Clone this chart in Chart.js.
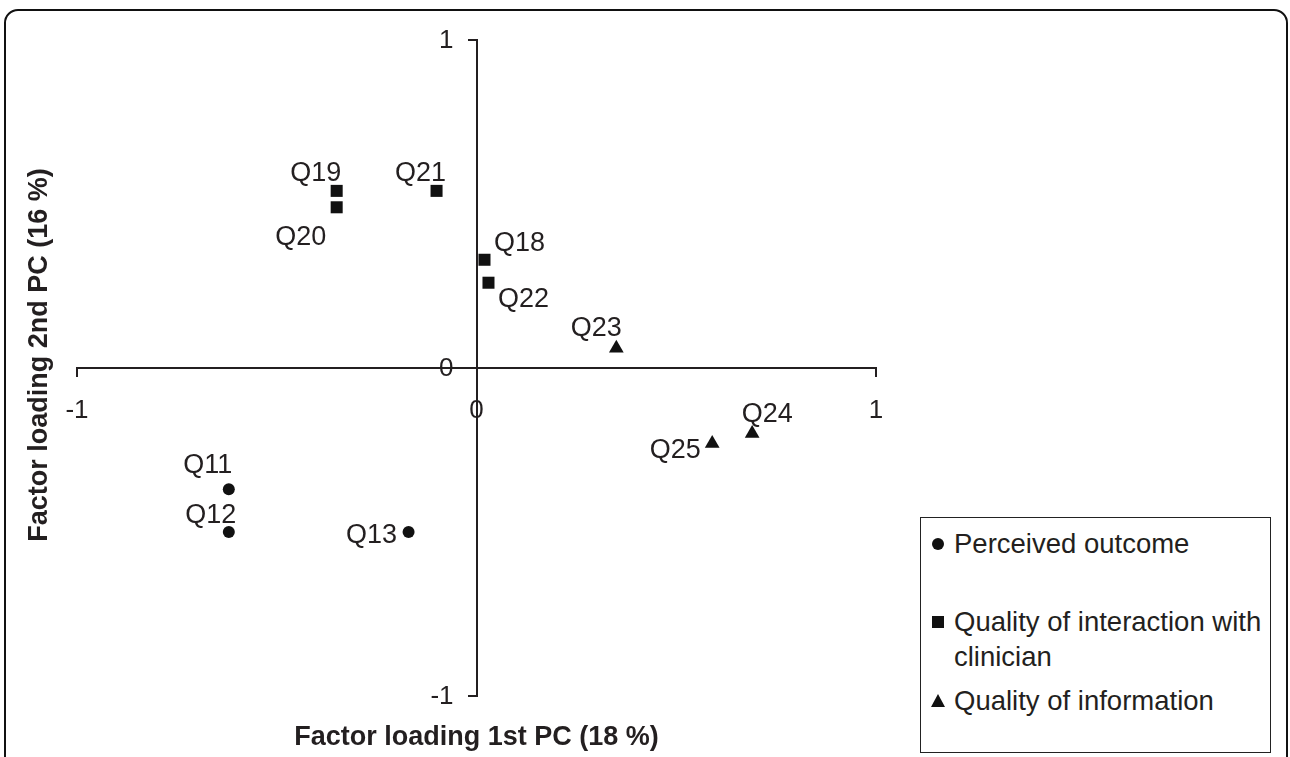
<!DOCTYPE html>
<html>
<head>
<meta charset="utf-8">
<title>Factor loadings</title>
<script src="https://cdn.jsdelivr.net/npm/chart.js@4.4.1/dist/chart.umd.min.js"></script>
<style>
  html, body { margin: 0; padding: 0; background: #fff; }
  body { width: 1290px; height: 757px; position: relative; overflow: hidden; font-family: 'Liberation Sans', Arial, sans-serif; color: #231f20; }
  #frame { position: absolute; left: 4px; top: 9px; width: 1280px; height: 800px; border: 2px solid #111; border-radius: 14px; }
  #wrap { position: absolute; left: 0; top: 0; width: 1290px; height: 757px; }
  #legend { position: absolute; left: 920px; top: 517px; width: 349px; height: 234px; border: 1.5px solid #222; background: #fff; font-size: 27.5px; line-height: 35px; }
  .item { position: relative; padding-left: 33px; }
  .mk { position: absolute; background: #111; }
  .mk.circle { width: 12px; height: 12px; border-radius: 50%; left: 11px; top: 12px; }
  .mk.rect { width: 12px; height: 12px; left: 11px; top: 12px; }
  .mk.triangle { width: 0; height: 0; background: none; left: 10px; top: 11px; border-left: 7px solid transparent; border-right: 7px solid transparent; border-bottom: 13px solid #111; }
</style>
</head>
<body>
<div id="frame"></div>
<div id="wrap"><canvas id="chart"></canvas></div>
<div id="legend"></div>
<script>
// series: x = loading on 1st PC, y = loading on 2nd PC
const outcomeLabels = ['Q11', 'Q12', 'Q13'];
const outcomeX = [-0.62, -0.62, -0.17];
const outcomeY = [-0.37, -0.50, -0.50];

const interactionLabels = ['Q18', 'Q19', 'Q20', 'Q21', 'Q22'];
const interactionX = [0.02, -0.35, -0.35, -0.10, 0.03];
const interactionY = [0.33, 0.54, 0.49, 0.54, 0.26];

const informationLabels = ['Q23', 'Q24', 'Q25'];
const informationX = [0.35, 0.69, 0.59];
const informationY = [0.06, -0.20, -0.23];

const seriesNames = ['Perceived outcome', 'Quality of interaction with clinician', 'Quality of information'];
const axisTicks = [-1, 0, 1];

// where each point label sits relative to its marker (px)
const labelOffsets = {
    Q11: [-21, -24], Q12: [-18, -16], Q13: [-37, 4],
    Q18: [35, -16], Q19: [-21, -17], Q20: [-36, 30], Q21: [-16, -17], Q22: [35, 17],
    Q23: [-20, -20], Q24: [15, -19], Q25: [-37, 7]
};

const ink = '#231f20';
const fontFamily = "'Liberation Sans', Arial, sans-serif";
const tickLen = 8;

function points(xs, ys) {
    return xs.map((x, i) => ({ x: x, y: ys[i] }));
}

const datasets = [
    { label: seriesNames[0], data: points(outcomeX, outcomeY), names: outcomeLabels, pointStyle: 'circle', pointRadius: 6 },
    { label: seriesNames[1], data: points(interactionX, interactionY), names: interactionLabels, pointStyle: 'rect', pointRadius: 8.5 },
    { label: seriesNames[2], data: points(informationX, informationY), names: informationLabels, pointStyle: 'triangle', pointRadius: 8.5 }
];
datasets.forEach(ds => {
    ds.backgroundColor = '#111';
    ds.borderColor = '#111';
    ds.borderWidth = 0;
    ds.pointHoverRadius = ds.pointRadius;
});

const pointLabels = {
    id: 'pointLabels',
    afterDatasetsDraw(chart) {
        const ctx = chart.ctx;
        ctx.save();
        ctx.font = '27px ' + fontFamily;
        ctx.fillStyle = ink;
        ctx.textAlign = 'center';
        ctx.textBaseline = 'middle';
        chart.data.datasets.forEach((ds, di) => {
            chart.getDatasetMeta(di).data.forEach((el, i) => {
                const name = ds.names[i];
                const off = labelOffsets[name] || [0, -20];
                ctx.fillText(name, el.x + off[0], el.y + off[1]);
            });
        });
        ctx.restore();
    }
};

// the y axis sits on x = 0, where chart.js puts its labels right on the line,
// so its tick labels are drawn here, left of the tick marks
const yTickLabels = {
    id: 'yTickLabels',
    afterDraw(chart) {
        const ctx = chart.ctx;
        const xs = chart.scales.x;
        const ys = chart.scales.y;
        const right = xs.getPixelForValue(0) - tickLen - 15;
        ctx.save();
        ctx.font = '26px ' + fontFamily;
        ctx.fillStyle = ink;
        ctx.textAlign = 'right';
        ctx.textBaseline = 'middle';
        ys.ticks.forEach(t => {
            if (axisTicks.includes(t.value)) {
                ctx.fillText(String(t.value), right, ys.getPixelForValue(t.value) + 1);
            }
        });
        ctx.restore();
    }
};

const axisTitles = {
    id: 'axisTitles',
    afterDraw(chart) {
        const ctx = chart.ctx;
        const area = chart.chartArea;
        ctx.save();
        ctx.font = 'bold 27px ' + fontFamily;
        ctx.fillStyle = ink;
        ctx.textAlign = 'center';
        ctx.textBaseline = 'middle';
        ctx.fillText('Factor loading 1st PC (18 %)', (area.left + area.right) / 2, area.bottom + 42);
        ctx.translate(40, (area.top + area.bottom) / 2 - 13);
        ctx.rotate(-Math.PI / 2);
        ctx.fillText('Factor loading 2nd PC (16 %)', 0, 0);
        ctx.restore();
    }
};

function axis(pos, showLabels) {
    return {
        type: 'linear',
        min: axisTicks[0],
        max: axisTicks[axisTicks.length - 1],
        position: pos,
        border: { display: true, color: ink, width: 2 },
        grid: { display: true, drawOnChartArea: false, drawTicks: true, tickLength: tickLen, color: ink, lineWidth: 2 },
        ticks: {
            display: showLabels,
            stepSize: 1,
            color: ink,
            padding: 19,
            font: { family: fontFamily, size: 26 },
            callback: v => axisTicks.includes(v) ? String(v) : ''
        }
    };
}

new Chart(document.getElementById('chart'), {
    type: 'scatter',
    data: { datasets: datasets },
    options: {
        responsive: true,
        maintainAspectRatio: false,
        animation: false,
        layout: { padding: { left: 77, top: 40, right: 414, bottom: 61 } },
        plugins: { legend: { display: false }, tooltip: { enabled: false } },
        scales: {
            x: axis({ y: 0 }, true),
            y: axis({ x: 0 }, false)
        }
    },
    plugins: [pointLabels, yTickLabels, axisTitles]
});

// boxed legend in the lower right, built from the series names
const legendSpacing = [8, 43, 9];
const legendEl = document.getElementById('legend');
datasets.forEach((ds, i) => {
    const item = document.createElement('div');
    item.className = 'item';
    item.style.marginTop = legendSpacing[i] + 'px';
    const mk = document.createElement('span');
    mk.className = 'mk ' + ds.pointStyle;
    item.appendChild(mk);
    const txt = document.createElement('span');
    txt.textContent = ds.label;
    item.appendChild(txt);
    legendEl.appendChild(item);
});
</script>
</body>
</html>
